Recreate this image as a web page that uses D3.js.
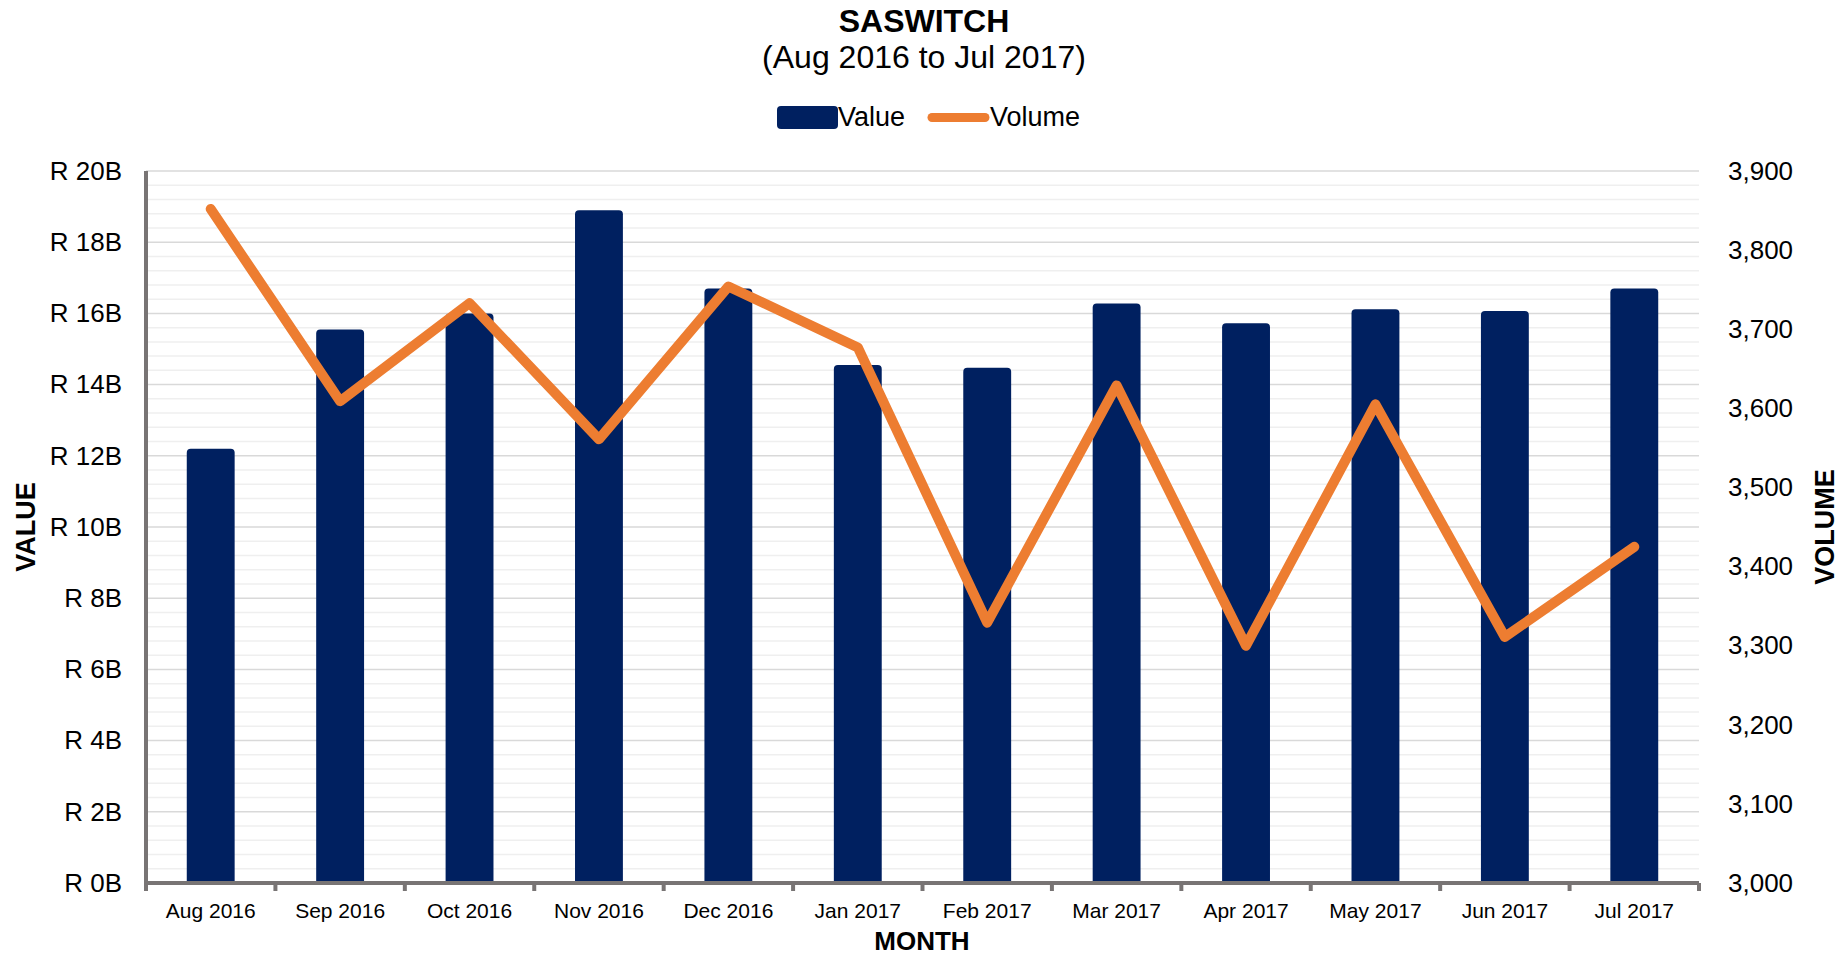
<!DOCTYPE html>
<html>
<head>
<meta charset="utf-8">
<script src="https://cdn.jsdelivr.net/npm/d3@7"></script>
<style>
  html, body { margin: 0; padding: 0; background: #ffffff; }
  svg { display: block; font-family: "Liberation Sans", Arial, Helvetica, sans-serif; }
</style>
</head>
<body>
<svg id="chart" width="1841" height="957"></svg>
<script>
// ---- data ----
const months = ["Aug 2016", "Sep 2016", "Oct 2016", "Nov 2016", "Dec 2016", "Jan 2017",
                "Feb 2017", "Mar 2017", "Apr 2017", "May 2017", "Jun 2017", "Jul 2017"];
const valuesB = [12.2, 15.55, 16.0, 18.9, 16.7, 14.55, 14.47, 16.28, 15.72, 16.12, 16.07, 16.7];
const volumes = [3852, 3609, 3733, 3561, 3754, 3677, 3329, 3629, 3300, 3605, 3311, 3425];
const valueTicks = [0, 2, 4, 6, 8, 10, 12, 14, 16, 18, 20];
const volumeTicks = [3000, 3100, 3200, 3300, 3400, 3500, 3600, 3700, 3800, 3900];
const titleText = "SASWITCH";
const subtitleText = "(Aug 2016 to Jul 2017)";
const seriesNames = ["Value", "Volume"];

(function () {
// ---- layout ----
const svg = d3.select("#chart");
const pL = 146, pR = 1699, pT = 171, pB = 883;
const barColor = "#002060", lineColor = "#ED7D31", axisColor = "#787474";
const ff = "Liberation Sans, Arial, sans-serif";

const x = d3.scaleBand().domain(months).range([pL, pR]).padding(0);
const yV = d3.scaleLinear().domain([0, 20]).range([pB, pT]);
const yVol = d3.scaleLinear().domain([3000, 3900]).range([pB, pT]);

// gridlines (minor then major)
const minor = d3.range(0, 20.001, 0.4);
svg.append("g").selectAll("line").data(minor).join("line")
  .attr("x1", pL).attr("x2", pR)
  .attr("y1", d => yV(d)).attr("y2", d => yV(d))
  .attr("stroke", d => (Math.abs(d / 2 - Math.round(d / 2)) < 1e-6) ? "#d9d9d9" : "#efefef")
  .attr("stroke-width", 1.5);

// bars with rounded top corners
const bw = x.bandwidth() * 0.37;
const r = 4;
function barPath(x0, y0, w, y1) {
  return `M${x0},${y1} L${x0},${y0 + r} Q${x0},${y0} ${x0 + r},${y0} L${x0 + w - r},${y0} Q${x0 + w},${y0} ${x0 + w},${y0 + r} L${x0 + w},${y1} Z`;
}
svg.append("g").selectAll("path").data(months).join("path")
  .attr("d", (m, i) => barPath(x(m) + (x.bandwidth() - bw) / 2, yV(valuesB[i]), bw, yV(0)))
  .attr("fill", barColor);

// axes lines
svg.append("line").attr("x1", pL).attr("x2", pL).attr("y1", pT).attr("y2", pB + 8)
  .attr("stroke", axisColor).attr("stroke-width", 4);
svg.append("line").attr("x1", pL - 2).attr("x2", pR).attr("y1", pB).attr("y2", pB)
  .attr("stroke", axisColor).attr("stroke-width", 4);
const tickPos = months.map(m => x(m)).concat([pR]);
svg.append("g").selectAll("line").data(tickPos).join("line")
  .attr("x1", d => d).attr("x2", d => d).attr("y1", pB).attr("y2", pB + 8)
  .attr("stroke", axisColor).attr("stroke-width", 4);

// volume line
const line = d3.line().x((d, i) => x(months[i]) + x.bandwidth() / 2).y(d => yVol(d));
svg.append("path").datum(volumes).attr("d", line)
  .attr("fill", "none").attr("stroke", lineColor).attr("stroke-width", 10)
  .attr("stroke-linejoin", "round").attr("stroke-linecap", "round");

// left axis labels
const axL = d3.axisLeft(yV).tickValues(valueTicks).tickFormat(d => "R " + d + "B").tickSize(0).tickPadding(0);
const gL = svg.append("g").attr("transform", `translate(122,0)`).call(axL);
gL.select(".domain").remove();
gL.selectAll("text").attr("font-size", 26).attr("fill", "#000").attr("font-family", ff);

// right axis labels
const axR = d3.axisRight(yVol).tickValues(volumeTicks).tickFormat(d3.format(",")).tickSize(0).tickPadding(0);
const gR = svg.append("g").attr("transform", `translate(1728,0)`).call(axR);
gR.select(".domain").remove();
gR.selectAll("text").attr("font-size", 26).attr("fill", "#000").attr("font-family", ff);

// bottom axis labels
const axB = d3.axisBottom(x).tickSize(0).tickPadding(0);
const gB = svg.append("g").attr("transform", `translate(0,903)`).call(axB);
gB.select(".domain").remove();
gB.selectAll("text").attr("font-size", 21).attr("fill", "#000").attr("font-family", ff);

// titles
svg.append("text").attr("x", 924).attr("y", 32).attr("text-anchor", "middle")
  .attr("font-size", 32).attr("font-weight", "bold").text(titleText);
svg.append("text").attr("x", 924).attr("y", 68).attr("text-anchor", "middle")
  .attr("font-size", 32).text(subtitleText);

// axis titles
svg.append("text").attr("x", 922).attr("y", 950).attr("text-anchor", "middle")
  .attr("font-size", 26).attr("font-weight", "bold").text("MONTH");
svg.append("text").attr("transform", `translate(35,527) rotate(-90)`).attr("text-anchor", "middle")
  .attr("font-size", 27).attr("font-weight", "bold").text("VALUE");
svg.append("text").attr("transform", `translate(1834,527) rotate(-90)`).attr("text-anchor", "middle")
  .attr("font-size", 27).attr("font-weight", "bold").text("VOLUME");

// legend
const lg = svg.append("g");
lg.append("rect").attr("x", 777).attr("y", 106).attr("width", 61).attr("height", 23).attr("rx", 4).attr("fill", barColor);
lg.append("text").attr("x", 838).attr("y", 126).attr("font-size", 27).text(seriesNames[0]);
lg.append("line").attr("x1", 932).attr("x2", 985).attr("y1", 117.5).attr("y2", 117.5)
  .attr("stroke", lineColor).attr("stroke-width", 9).attr("stroke-linecap", "round");
lg.append("text").attr("x", 990).attr("y", 126).attr("font-size", 27).text(seriesNames[1]);
})();
</script>
</body>
</html>
